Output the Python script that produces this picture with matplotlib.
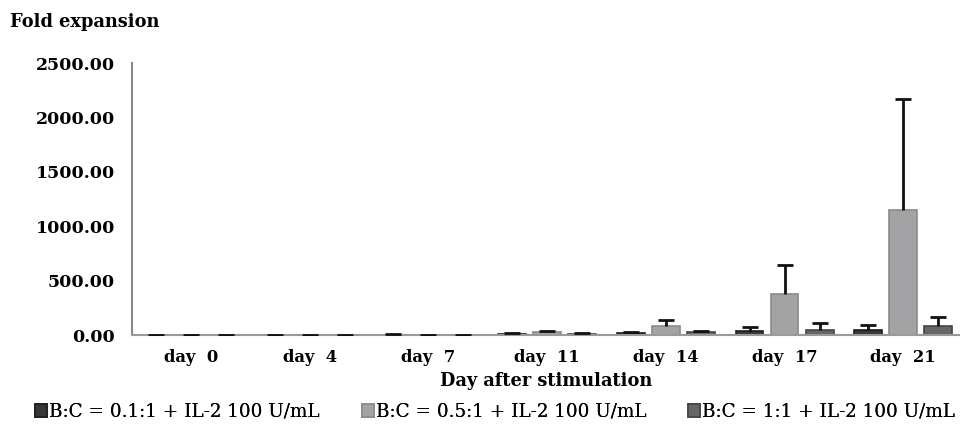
import numpy as np
import matplotlib
matplotlib.use('Agg')
import matplotlib.pyplot as plt

# data
days = ['day  0', 'day  4', 'day  7', 'day  11', 'day  14', 'day  17', 'day  21']
labels = ['B:C = 0.1:1 + IL-2 100 U/mL',
          'B:C = 0.5:1 + IL-2 100 U/mL',
          'B:C = 1:1 + IL-2 100 U/mL']
mean_01 = [1, 1, 4, 8, 18, 34, 46]
err_01 = [1, 1, 5, 6, 12, 40, 46]
mean_05 = [1, 1, 1, 25, 83, 375, 1149]
err_05 = [1, 1, 1, 12, 55, 270, 1023]
mean_11 = [1, 1, 1, 12, 25, 46, 85]
err_11 = [1, 1, 1, 8, 12, 64, 83]
yticks = [0, 500, 1000, 1500, 2000, 2500]

fills = ['#383838', '#a3a3a5', '#666666']
edges = ['#1e1e1e', '#8a8a8a', '#444444']

plt.rcParams['font.family'] = 'DejaVu Serif'

fig = plt.figure(figsize=(9.6, 4.28), dpi=100)
ax = fig.add_axes([131.7 / 960, 93 / 428, 830.9 / 960, 272 / 428])

x = np.arange(len(days))
w = 0.235
step = 0.295
series = [(mean_01, err_01), (mean_05, err_05), (mean_11, err_11)]
handles = []
for i, (m, e) in enumerate(series):
    m = np.array(m, dtype=float)
    e = np.array(e, dtype=float)
    b = ax.bar(x + (i - 1) * step, m, w, color=fills[i], edgecolor=edges[i],
               linewidth=1.2, label=labels[i], zorder=2)
    eb = ax.errorbar(x + (i - 1) * step, m, yerr=[np.zeros_like(e), e], fmt='none',
                     ecolor='#111111', elinewidth=2, capsize=5.5, capthick=2, zorder=3)
    # only the upper cap, like the original
    eb[1][0].set_visible(False)
    handles.append(b)

ax.set_xlim(-0.5, 6.5)
ax.set_ylim(0, 2500)
ax.set_yticks(yticks)
ax.set_yticklabels(['%.2f' % v for v in yticks], fontsize=12.5, fontweight='bold')
ax.set_xticks(x)
ax.set_xticklabels(days, fontsize=11.8, fontweight='bold')
ax.tick_params(axis='both', length=0, pad=12)
ax.tick_params(axis='x', pad=10)

for s in ['top', 'right']:
    ax.spines[s].set_visible(False)
ax.spines['left'].set_color('#888888')
ax.spines['bottom'].set_color('#999999')
ax.spines['left'].set_linewidth(1.5)
ax.spines['bottom'].set_linewidth(1.5)

fig.text(10 / 960, 1 - 22 / 428, 'Fold expansion', fontsize=12.8,
         fontweight='bold', va='center', ha='left')
fig.text(546 / 960, 1 - 381 / 428, 'Day after stimulation', fontsize=12.8,
         fontweight='bold', va='center', ha='center')

# one legend per entry so each sits where the original puts it
leg_x = [35, 362, 688]
for i in range(3):
    lg = fig.legend(handles=[handles[i]], labels=[labels[i]], loc='center left',
                    bbox_to_anchor=(leg_x[i] / 960, 1 - 412 / 428), frameon=False,
                    fontsize=13.2, handlelength=0.65, handleheight=0.65,
                    handletextpad=0.1, borderpad=0, borderaxespad=0)
    fig.add_artist(lg)

fig.savefig('out.png', dpi=100)
